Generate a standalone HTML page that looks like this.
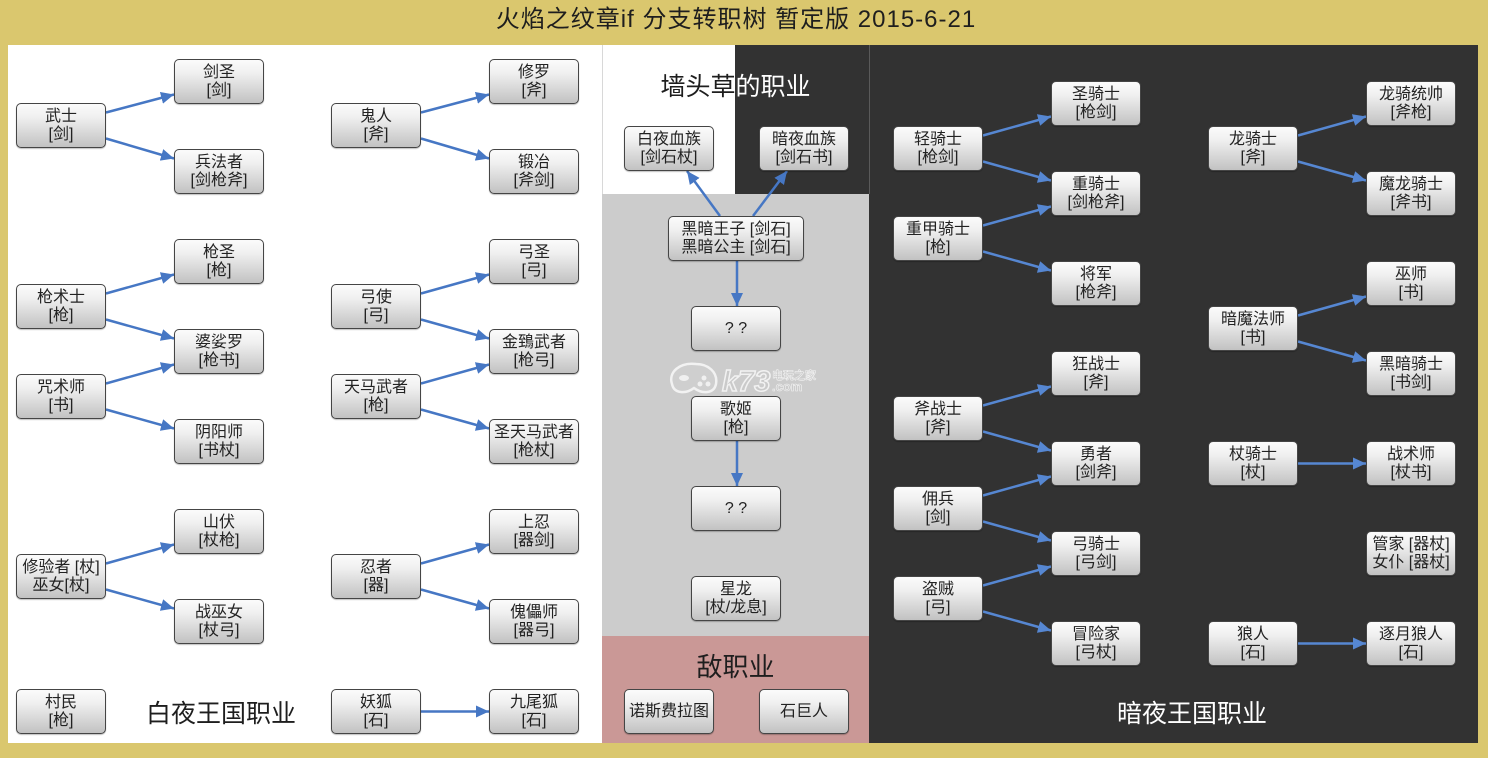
<!DOCTYPE html>
<html><head><meta charset="utf-8">
<style>
html,body{margin:0;padding:0;}
body{width:1488px;height:758px;background:#dac76e;position:relative;overflow:hidden;font-family:"Liberation Sans","Noto Sans CJK SC",sans-serif;}
.abs{position:absolute;}
.n{position:absolute;box-sizing:border-box;width:90px;height:45px;border:1px solid #454545;border-radius:5px;background:linear-gradient(#fbfbfb,#f0f0f0 30%,#c2c2c2);display:flex;flex-direction:column;justify-content:center;align-items:center;font-size:16px;line-height:18px;color:#222;text-align:center;white-space:nowrap;box-shadow:0 1px 1px rgba(0,0,0,0.25);}
.lbl{position:absolute;font-size:25px;line-height:30px;white-space:nowrap;}
</style></head><body>
<!-- title -->
<div class="abs" style="left:0;top:6px;width:1472px;text-align:center;font-size:24px;letter-spacing:1px;line-height:28px;color:#1e1e1e;">火焰之纹章if 分支转职树 暂定版 2015-6-21</div>
<!-- panels -->
<div class="abs" style="left:8px;top:45px;width:594px;height:698px;background:#fff;"></div>
<div class="abs" style="left:602px;top:45px;width:133px;height:149px;background:#fff;"></div>
<div class="abs" style="left:735px;top:45px;width:134px;height:149px;background:#323232;"></div>
<div class="abs" style="left:602px;top:194px;width:267px;height:442px;background:#cccccc;"></div>
<div class="abs" style="left:602px;top:636px;width:267px;height:107px;background:#ca9896;"></div>
<div class="abs" style="left:869px;top:45px;width:609px;height:698px;background:#323232;"></div>
<div class="abs" style="left:602px;top:45px;width:1px;height:149px;background:#d8d8d8;"></div>
<div class="abs" style="left:869px;top:45px;width:1px;height:149px;background:#5a5a5a;"></div>

<!-- labels -->
<div class="lbl" style="left:602px;top:72px;width:267px;text-align:center;color:#1e1e1e;clip-path:inset(0 134px 0 0);">墙头草的职业</div>
<div class="lbl" style="left:602px;top:72px;width:267px;text-align:center;color:#fff;clip-path:inset(0 0 0 133px);">墙头草的职业</div>
<div class="lbl" style="left:602px;top:652px;width:267px;text-align:center;color:#1e1e1e;font-size:26px;">敌职业</div>
<div class="lbl" style="left:121px;top:699px;width:200px;text-align:center;color:#1e1e1e;">白夜王国职业</div>
<div class="lbl" style="left:1092px;top:699px;width:200px;text-align:center;color:#fff;">暗夜王国职业</div>

<!-- connectors -->
<svg class="abs" style="left:0;top:0;" width="1488" height="758" viewBox="0 0 1488 758">
<defs>
<marker id="a" markerUnits="userSpaceOnUse" markerWidth="14" markerHeight="12" refX="13" refY="6" orient="auto"><path d="M0,0 L13,6 L0,12 z" fill="#4677c4"/></marker>
<marker id="b" markerUnits="userSpaceOnUse" markerWidth="14" markerHeight="12" refX="13" refY="6" orient="auto"><path d="M0,0 L13,6 L0,12 z" fill="#5687d2"/></marker>
</defs>
<g stroke="#4677c4" stroke-width="2.5" fill="none" marker-end="url(#a)">
<line x1="106" y1="112.5" x2="174" y2="94.5"/>
<line x1="106" y1="138.5" x2="174" y2="158.5"/>
<line x1="421" y1="112.5" x2="489" y2="94.5"/>
<line x1="421" y1="138.5" x2="489" y2="158.5"/>
<line x1="106" y1="293.5" x2="174" y2="274.5"/>
<line x1="106" y1="319.5" x2="174" y2="338.5"/>
<line x1="106" y1="383.5" x2="174" y2="364.5"/>
<line x1="106" y1="409.5" x2="174" y2="428.5"/>
<line x1="421" y1="293.5" x2="489" y2="274.5"/>
<line x1="421" y1="319.5" x2="489" y2="338.5"/>
<line x1="421" y1="383.5" x2="489" y2="364.5"/>
<line x1="421" y1="409.5" x2="489" y2="428.5"/>
<line x1="106" y1="563.5" x2="174" y2="544.5"/>
<line x1="106" y1="589.5" x2="174" y2="608.5"/>
<line x1="421" y1="563.5" x2="489" y2="544.5"/>
<line x1="421" y1="589.5" x2="489" y2="608.5"/>
<line x1="421" y1="711.5" x2="489" y2="711.5"/>
<line x1="720" y1="216" x2="687" y2="171"/>
<line x1="753" y1="216" x2="787" y2="171"/>
<line x1="737" y1="261" x2="737" y2="306"/>
<line x1="737" y1="441" x2="737" y2="486"/>
</g>
<g stroke="#5687d2" stroke-width="2.5" fill="none" marker-end="url(#b)">
<line x1="983" y1="135.5" x2="1051" y2="116.5"/>
<line x1="983" y1="161.5" x2="1051" y2="180.5"/>
<line x1="983" y1="225.5" x2="1051" y2="206.5"/>
<line x1="983" y1="251.5" x2="1051" y2="270.5"/>
<line x1="983" y1="405.5" x2="1051" y2="386.5"/>
<line x1="983" y1="431.5" x2="1051" y2="450.5"/>
<line x1="983" y1="495.5" x2="1051" y2="476.5"/>
<line x1="983" y1="521.5" x2="1051" y2="540.5"/>
<line x1="983" y1="585.5" x2="1051" y2="566.5"/>
<line x1="983" y1="611.5" x2="1051" y2="630.5"/>
<line x1="1298" y1="135.5" x2="1366" y2="116.5"/>
<line x1="1298" y1="161.5" x2="1366" y2="180.5"/>
<line x1="1298" y1="315.5" x2="1366" y2="296.5"/>
<line x1="1298" y1="341.5" x2="1366" y2="360.5"/>
<line x1="1298" y1="463.5" x2="1366" y2="463.5"/>
<line x1="1298" y1="643.5" x2="1366" y2="643.5"/>
</g>
<!-- watermark -->
<g>
<path d="M672,384 C668,372 680,362 696,364 C708,364 718,372 716,384 C714,394 702,394 694,388 C686,394 674,394 672,384 z" fill="#cfcfcf" stroke="#f2f2f2" stroke-width="2.5"/>
<circle cx="704" cy="378" r="2.5" fill="#f0f0f0"/><circle cx="708" cy="384" r="2.5" fill="#f0f0f0"/><circle cx="700" cy="384" r="2.5" fill="#f0f0f0"/>
<ellipse cx="684" cy="378" rx="5" ry="3" fill="#f0f0f0"/>
<text x="722" y="391" font-family="Liberation Sans, sans-serif" font-size="29" font-weight="bold" font-style="italic" fill="#cacaca" stroke="#f2f2f2" stroke-width="1.5">k73</text>
<text x="772" y="379" font-family="Liberation Sans, Noto Sans CJK SC, sans-serif" font-size="11" font-weight="bold" fill="#cacaca" stroke="#f2f2f2" stroke-width="0.6">电玩之家</text>
<text x="772" y="391" font-family="Liberation Sans, sans-serif" font-size="13" font-weight="bold" fill="#cacaca" stroke="#f2f2f2" stroke-width="0.6">.com</text>
</g>
</svg>

<!-- left nodes -->
<div class="n" style="left:16px;top:103px;">武士<br>[剑]</div>
<div class="n" style="left:16px;top:284px;">枪术士<br>[枪]</div>
<div class="n" style="left:16px;top:374px;">咒术师<br>[书]</div>
<div class="n" style="left:16px;top:554px;">修验者 [杖]<br>巫女[杖]</div>
<div class="n" style="left:16px;top:689px;">村民<br>[枪]</div>

<div class="n" style="left:174px;top:59px;">剑圣<br>[剑]</div>
<div class="n" style="left:174px;top:149px;">兵法者<br>[剑枪斧]</div>
<div class="n" style="left:174px;top:239px;">枪圣<br>[枪]</div>
<div class="n" style="left:174px;top:329px;">婆娑罗<br>[枪书]</div>
<div class="n" style="left:174px;top:419px;">阴阳师<br>[书杖]</div>
<div class="n" style="left:174px;top:509px;">山伏<br>[杖枪]</div>
<div class="n" style="left:174px;top:599px;">战巫女<br>[杖弓]</div>

<div class="n" style="left:331px;top:103px;">鬼人<br>[斧]</div>
<div class="n" style="left:331px;top:284px;">弓使<br>[弓]</div>
<div class="n" style="left:331px;top:374px;">天马武者<br>[枪]</div>
<div class="n" style="left:331px;top:554px;">忍者<br>[器]</div>
<div class="n" style="left:331px;top:689px;">妖狐<br>[石]</div>

<div class="n" style="left:489px;top:59px;">修罗<br>[斧]</div>
<div class="n" style="left:489px;top:149px;">锻冶<br>[斧剑]</div>
<div class="n" style="left:489px;top:239px;">弓圣<br>[弓]</div>
<div class="n" style="left:489px;top:329px;">金鵄武者<br>[枪弓]</div>
<div class="n" style="left:489px;top:419px;">圣天马武者<br>[枪杖]</div>
<div class="n" style="left:489px;top:509px;">上忍<br>[器剑]</div>
<div class="n" style="left:489px;top:599px;">傀儡师<br>[器弓]</div>
<div class="n" style="left:489px;top:689px;">九尾狐<br>[石]</div>

<!-- middle nodes -->
<div class="n" style="left:624px;top:126px;">白夜血族<br>[剑石杖]</div>
<div class="n" style="left:759px;top:126px;">暗夜血族<br>[剑石书]</div>
<div class="n" style="left:668px;top:216px;width:136px;">黑暗王子 [剑石]<br>黑暗公主 [剑石]</div>
<div class="n" style="left:691px;top:306px;">? ?</div>
<div class="n" style="left:691px;top:396px;">歌姬<br>[枪]</div>
<div class="n" style="left:691px;top:486px;">? ?</div>
<div class="n" style="left:691px;top:576px;">星龙<br>[杖/龙息]</div>
<div class="n" style="left:624px;top:689px;">诺斯费拉图</div>
<div class="n" style="left:759px;top:689px;">石巨人</div>

<!-- right nodes -->
<div class="n" style="left:893px;top:126px;">轻骑士<br>[枪剑]</div>
<div class="n" style="left:893px;top:216px;">重甲骑士<br>[枪]</div>
<div class="n" style="left:893px;top:396px;">斧战士<br>[斧]</div>
<div class="n" style="left:893px;top:486px;">佣兵<br>[剑]</div>
<div class="n" style="left:893px;top:576px;">盗贼<br>[弓]</div>

<div class="n" style="left:1051px;top:81px;">圣骑士<br>[枪剑]</div>
<div class="n" style="left:1051px;top:171px;">重骑士<br>[剑枪斧]</div>
<div class="n" style="left:1051px;top:261px;">将军<br>[枪斧]</div>
<div class="n" style="left:1051px;top:351px;">狂战士<br>[斧]</div>
<div class="n" style="left:1051px;top:441px;">勇者<br>[剑斧]</div>
<div class="n" style="left:1051px;top:531px;">弓骑士<br>[弓剑]</div>
<div class="n" style="left:1051px;top:621px;">冒险家<br>[弓杖]</div>

<div class="n" style="left:1208px;top:126px;">龙骑士<br>[斧]</div>
<div class="n" style="left:1208px;top:306px;">暗魔法师<br>[书]</div>
<div class="n" style="left:1208px;top:441px;">杖骑士<br>[杖]</div>
<div class="n" style="left:1208px;top:621px;">狼人<br>[石]</div>

<div class="n" style="left:1366px;top:81px;">龙骑统帅<br>[斧枪]</div>
<div class="n" style="left:1366px;top:171px;">魔龙骑士<br>[斧书]</div>
<div class="n" style="left:1366px;top:261px;">巫师<br>[书]</div>
<div class="n" style="left:1366px;top:351px;">黑暗骑士<br>[书剑]</div>
<div class="n" style="left:1366px;top:441px;">战术师<br>[杖书]</div>
<div class="n" style="left:1366px;top:531px;">管家 [器杖]<br>女仆 [器杖]</div>
<div class="n" style="left:1366px;top:621px;">逐月狼人<br>[石]</div>
</body></html>
